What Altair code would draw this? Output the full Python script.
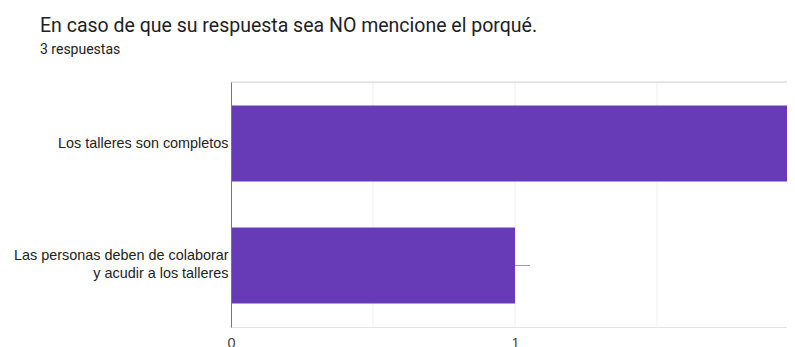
import altair as alt
import pandas as pd

# ---- data ----
categories = [
    "Los talleres son completos",
    "Las personas deben de colaborar\ny acudir a los talleres",
]
counts = [2, 1]
x_label_values = [0, 1]
grid_values = [0.5, 1, 1.5]
title_text = "En caso de que su respuesta sea NO mencione el porqué."
subtitle_text = "3 respuestas"

df = pd.DataFrame({"cat": categories, "n": counts})
grid_df = pd.DataFrame({"g": grid_values})

PURPLE = "#673ab7"
TITLE_FONT = "Roboto"
AXIS_FONT = "Liberation Sans"

PLOT_W = 556
PX_PER_UNIT = 284

x_scale = alt.Scale(domain=[0, PLOT_W / PX_PER_UNIT], nice=False, zero=True)
y_scale = alt.Scale(domain=categories, paddingInner=0.377, paddingOuter=0.193)

x_axis = alt.Axis(
    values=x_label_values,
    format="d",
    title=None,
    grid=False,
    domainColor="#e3e3e3",
    ticks=False,
    labelPadding=9,
    labelFontSize=14.4,
    labelColor="#444444",
    labelFont=AXIS_FONT,
    labelOverlap=False,
    labelFlush=False,
)
y_axis = alt.Axis(
    title=None,
    labelExpr="split(datum.label, '\\n')",
    labelFontSize=14.4,
    labelFont=AXIS_FONT,
    labelColor="#222222",
    labelPadding=3,
    labelLineHeight=18,
    labelOffset={
        "condition": {"test": "indexof(datum.value, '\\n') >= 0", "value": -9},
        "value": 0,
    },
    ticks=False,
    domainColor="#777777",
    domainWidth=1,
    zindex=1,
    labelLimit=400,
)

grid = alt.Chart(grid_df).mark_rule(color="#efefef").encode(
    x=alt.X("g:Q", scale=x_scale, axis=x_axis),
)

bars = alt.Chart(df).mark_bar(color=PURPLE, clip=True).encode(
    x=alt.X("n:Q", scale=x_scale, axis=x_axis),
    y=alt.Y("cat:N", scale=y_scale, sort=categories, axis=y_axis),
)

leader = (
    alt.Chart(df)
    .transform_calculate(end="datum.n + 0.053")
    .mark_rule(color="#9e9e9e", clip=True)
    .encode(
        x=alt.X("n:Q", scale=x_scale, axis=x_axis),
        x2="end:Q",
        y=alt.Y("cat:N", scale=y_scale, sort=categories, axis=y_axis),
    )
)

top_line = alt.Chart(df).mark_rule(color="#e3e3e3").encode(y=alt.value(0))

chart = (
    alt.layer(grid, top_line, bars, leader)
    .properties(
        width=PLOT_W,
        height=245,
        padding={"left": 223, "top": 74, "right": 0, "bottom": 20},
        autosize="none",
        title=alt.TitleParams(
            text=title_text,
            subtitle=subtitle_text,
            anchor="start",
            frame="group",
            dx=-191,
            offset=24,
            font=TITLE_FONT,
            fontSize=19.5,
            fontWeight="normal",
            color="#202124",
            subtitleFont=TITLE_FONT,
            subtitleFontSize=14,
            subtitleColor="#202124",
            subtitlePadding=6,
        ),
    )
    .configure_view(stroke=None)
    .configure(background="white")
)

chart.save("out.html", embed_options={"renderer": "svg", "actions": False})
